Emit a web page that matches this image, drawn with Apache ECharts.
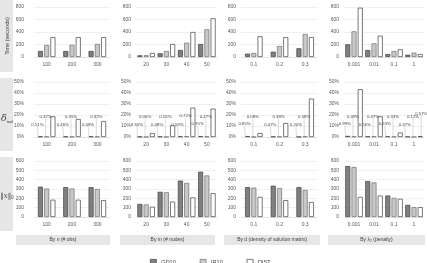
<!DOCTYPE html>
<html><head><meta charset="utf-8">
<script src="https://cdn.jsdelivr.net/npm/echarts@6/dist/echarts.min.js"></script>
<style>html,body{margin:0;padding:0;background:#fff}#c{width:427px;height:263px}</style>
</head><body><div id="c"></div>
<script>
// categories per panel (columns)
const catN = ['100','200','300'];
const catM = ['20','30','40','50'];
const catD = ['0.1','0.2','0.3'];
const catL = ['0.001','0.01','0.1','1'];
const colTitles = ['By n (# obs)','By m (# nodes)','By d (density of solution matrix)','By λ₂ (penalty)'];
const seriesNames = ['GD10','IR10','DIST'];

// Row 1: Time (seconds), per column [n, m, d, λ]
const timeGD10 = [[96,96,96],[27,59,112,208],[53,85,139],[203,112,48,37]];
const timeIR10 = [[192,195,210],[28,96,229,443],[64,176,368],[411,219,96,69]];
const timeDIST = [[318,318,318],[64,208,400,619],[331,318,318],[789,341,123,48]];

// Row 2: delta (%)
const deltaGD10 = [[0.51,0.46,0.49],[0.30,0.48,0.59,0.70],[0.85,0.47,0.20],[0.99,0.56,0.63,0.37]];
const deltaIR10 = [[0.47,0.35,0.32],[0.06,0.16,0.72,0.47],[0.08,0.38,0.58],[0.49,0.47,0.33,0.12]];
const deltaDIST = [[18.8,16.4,14.5],[3.6,10.6,26.7,25.8],[3.6,12.7,34.9],[43.4,18.8,4.0,0.57]];

// Row 3: ||x||_0
const normGD10 = [[325,320,320],[140,270,390,485],[320,335,320],[545,385,230,130]];
const normIR10 = [[305,305,300],[135,265,365,445],[315,310,290],[535,370,205,105]];
const normDIST = [[185,185,180],[110,165,210,255],[215,180,160],[215,230,195,105]];

const cats = [catN, catM, catD, catL];
const colL = [34, 136, 241, 344];
const colW = [76, 81, 77, 80];
const rowT = [7, 82, 161];
const rowH = [50, 55, 56];
const yMax = [800, 50, 600];
const yInt = [200, 10, 100];
const rowData = [[timeGD10,timeIR10,timeDIST],[deltaGD10,deltaIR10,deltaDIST],[normGD10,normIR10,normDIST]];
const fills = ['#808080','#c8c8c8','#ffffff'];
const borders = ['#404040','#707070','#404040'];
const FONT = 'Liberation Sans';

const grid=[], xAxis=[], yAxis=[], series=[];
let gi=0;
for (let r=0;r<3;r++){
  for (let c=0;c<4;c++){
    grid.push({left:colL[c], top:rowT[r], width:colW[c], height:rowH[r], containLabel:false});
    xAxis.push({type:'category', gridIndex:gi, data:cats[c],
      axisLine:{lineStyle:{color:'#d9d9d9',width:0.6}}, axisTick:{show:false},
      axisLabel:{fontSize:5, color:'#595959', fontFamily:FONT, margin:5}});
    yAxis.push({type:'value', gridIndex:gi, min:0, max:yMax[r], interval:yInt[r],
      axisLine:{show:false}, axisTick:{show:false},
      splitLine:{lineStyle:{color:'#e6e6e6',width:0.6}},
      axisLabel:{fontSize:5, color:'#595959', fontFamily:FONT, margin:(c===0?10:5),
        formatter: r===1 ? '{value}%' : '{value}'}});
    for (let s=0;s<3;s++){
      const vals = rowData[r][s][c];
      const ser = {type:'bar', name:seriesNames[s], xAxisIndex:gi, yAxisIndex:gi,
        barWidth:5, barGap:'25%',
        itemStyle:{color:fills[s], borderColor:borders[s], borderWidth:0.7},
        data: vals.slice()};
      if (r===1){
        const fmt = p => p.value.toFixed(2)+'%';
        if (s===0){
          ser.label={show:true, position:'top', fontSize:4.3, color:'#404040', fontFamily:FONT, formatter:fmt};
          ser.labelLayout={dx:-3, dy:-5};
          ser.labelLine={show:true, lineStyle:{color:'#a6a6a6', width:0.4}};
        } else if (s===1){
          ser.label={show:true, position:'top', fontSize:4.3, color:'#404040', fontFamily:FONT, formatter:fmt};
          ser.labelLayout={dx:-1, dy:-13};
          ser.labelLine={show:true, lineStyle:{color:'#a6a6a6', width:0.4}};
        } else {
          ser.data = vals.map((v,i)=> (c===3 && i===3) ? {value:v, label:{show:true, position:'top', fontSize:4.3, color:'#404040', fontFamily:FONT, formatter:fmt}} : v);
          ser.labelLayout={dx:1, dy:-16};
          ser.labelLine={show:true, lineStyle:{color:'#a6a6a6', width:0.4}};
        }
      }
      series.push(ser);
    }
    gi++;
  }
}

const graphic = [];
// left row label bands
const bandY = [[0,72],[78,151],[157,231]];
bandY.forEach(b=>graphic.push({type:'rect', shape:{x:0,y:b[0],width:13,height:b[1]-b[0]}, style:{fill:'#e6e6e6'}, z:-1}));
graphic.push({type:'text', x:7.5, y:36, rotation:Math.PI/2, style:{text:'Time (seconds)', fontSize:5.5, fill:'#404040', fontFamily:FONT, align:'center', verticalAlign:'middle'}});
graphic.push({type:'text', x:7, y:119, style:{text:'{a|δ}{b|tool}', rich:{a:{fontSize:9.5, fontStyle:'italic', fill:'#404040', fontFamily:'DejaVu Serif'}, b:{fontSize:4, fill:'#404040', fontFamily:FONT, padding:[5,0,0,0]}}, align:'center', verticalAlign:'middle'}});
graphic.push({type:'text', x:7, y:196, style:{text:'{a|‖x‖}{b|0}', rich:{a:{fontSize:7, fontStyle:'italic', fill:'#404040', fontFamily:'DejaVu Serif'}, b:{fontSize:4.5, fill:'#404040', fontFamily:FONT, padding:[4,0,0,0]}}, align:'center', verticalAlign:'middle'}});
// bottom column bands
const bandX = [[16,110],[120,215],[224,320],[328,425]];
bandX.forEach((b,i)=>{
  graphic.push({type:'rect', shape:{x:b[0],y:235,width:b[1]-b[0],height:10}, style:{fill:'#e6e6e6'}, z:-1});
  graphic.push({type:'text', x:(b[0]+b[1])/2, y:240, style:{text:colTitles[i], fontSize:5, fill:'#404040', fontFamily:FONT, align:'center', verticalAlign:'middle'}});
});

const chart = echarts.init(document.getElementById('c'), null, {renderer:'canvas'});
chart.setOption({
  animation:false,
  grid, xAxis, yAxis, series, graphic,
  legend:{data:seriesNames, left:145, top:254, icon:'rect', itemWidth:6, itemHeight:7, itemGap:24,
    textStyle:{fontSize:5.5, color:'#404040', fontFamily:FONT},
    itemStyle:{borderWidth:0.7}}
});
</script></body></html>
